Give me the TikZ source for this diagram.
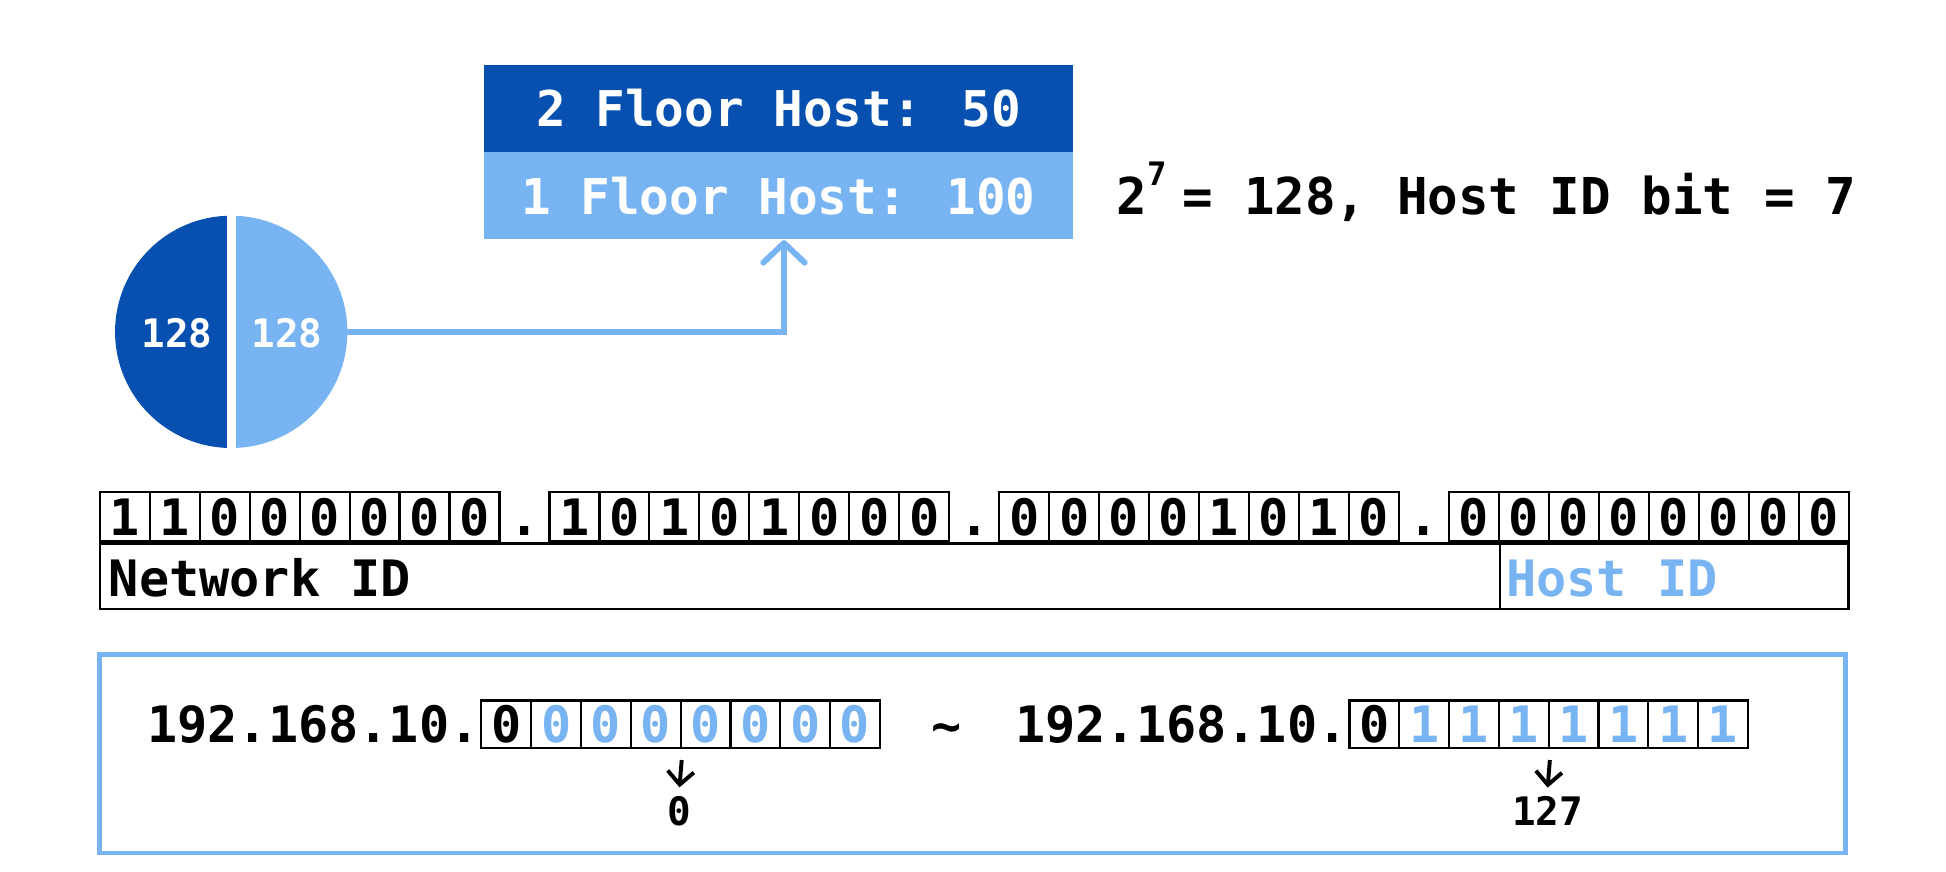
\documentclass[tikz,border=0pt]{standalone}
\usepackage{fontspec}
\setmainfont{DejaVu Sans Mono}
\usepackage{xcolor}
\usepackage{tikz}
\usetikzlibrary{arrows.meta,positioning,calc}
\definecolor{hostdark}{HTML}{0750B0}
\definecolor{hostlight}{HTML}{78B3F2}
\newcommand{\bigtxt}{\fontsize{11.5pt}{13pt}\selectfont\bfseries}
\newcommand{\boxtxt}{\fontsize{11.3pt}{13pt}\selectfont\bfseries}
\newcommand{\eqtxt}{\fontsize{11.65pt}{13pt}\selectfont\bfseries}
\newcommand{\smalltxt}{\fontsize{9pt}{10pt}\selectfont\bfseries}
\newcommand{\powsev}{\makebox[0.1em][l]{\raisebox{6.8pt}{\fontsize{7.4pt}{8pt}\selectfont 7}}}

\begin{document}
\begin{tikzpicture}[
  bitcell/.style={draw,line width=0.5pt,minimum width=4.026mm,minimum height=3.95mm,
    inner sep=0pt,anchor=south west,text height=2.96mm,text depth=0pt,font=\bigtxt},
  gapcell/.style={bitcell,draw=none},
  lowcell/.style={bitcell,minimum width=4.013mm,minimum height=3.85mm},
  floorbox/.style={minimum width=4.744cm,minimum height=7mm,inner sep=0pt,text=white,font=\boxtxt},
  valarrow/.style={line width=0.9pt,-{Straight Barb[length=3pt,width=6pt]}}]
  \useasboundingbox (0,0) rectangle (15.68,7.02);

  % floors
  \node[floorbox,fill=hostdark] (floorTwo) at (6.272,6.146) {2 Floor Host: 50};
  \node[floorbox,fill=hostlight,below=-0.3pt of floorTwo] (floorOne) {1 Floor Host: 100};
  \node[anchor=base west,inner sep=0pt,font=\eqtxt] (formula) at (8.99,5.29)
    {2\powsev{} = 128, Host ID bit = 7};

  % pie
  \fill[hostdark] (1.863,5.282) arc (90:270:0.936) -- cycle;
  \fill[hostlight] (1.863,5.282) arc (90:-90:0.936) -- cycle;
  \draw[white,line width=0.0725cm] (1.863,3.38) -- (1.863,5.31);
  \node[circle,minimum size=1.872cm,inner sep=0pt] (pie) at (1.863,4.346) {};
  \node[text=white,font=\smalltxt] (netA) at (1.425,4.335) {128};
  \node[text=white,font=\smalltxt] (netB) at (2.313,4.335) {128};
  \draw[hostlight,line width=1.35pt,line cap=round,-{Straight Barb[length=4.5pt,width=9.5pt,round]}]
    (pie.east) -| ([xshift=0.045cm]floorOne.south);

  % address bits
  \foreach \oct [count=\k from 0] in {{1,1,0,0,0,0,0,0},{1,0,1,0,1,0,0,0},{0,0,0,0,1,0,1,0},{0,0,0,0,0,0,0,0}}
    \foreach \b [count=\j from 0] in \oct
      \node[bitcell] (b\k-\j) at (0.795+9*\k*0.4026+\j*0.4026,2.65) {\b};
  \foreach \k in {0,1,2}
    \node[gapcell] (dot\k) at (0.795+9*\k*0.4026+8*0.4026,2.65) {.};
  \node[draw,line width=0.5pt,minimum width=14.09cm,minimum height=5.3mm,inner sep=0pt,anchor=north west]
    (idrow) at (0.795,2.65) {};
  \draw[line width=0.5pt] (b3-0.south east) -- (idrow.south -| b3-0.east);
  \node[anchor=base west,inner sep=0pt,font=\bigtxt] (netid) at (0.87,2.21) {Network ID};
  \node[anchor=base west,inner sep=0pt,font=\bigtxt,text=hostlight] (hostid) at (12.13,2.21) {Host ID};

  % host range
  \node[draw=hostlight,line width=1.05pt,minimum width=14.07cm,minimum height=1.6cm,inner sep=0pt]
    (range) at (7.835,0.947) {};
  \foreach \b/\c [count=\j from 0] in {0/black,0/hostlight,0/hostlight,0/hostlight,0/hostlight,0/hostlight,0/hostlight,0/hostlight}
    \node[lowcell,text=\c] (lo\j) at (3.87+\j*0.4013,0.982) {\b};
  \foreach \b/\c [count=\j from 0] in {0/black,1/hostlight,1/hostlight,1/hostlight,1/hostlight,1/hostlight,1/hostlight,1/hostlight}
    \node[lowcell,text=\c] (hi\j) at (10.865+\j*0.4013,0.982) {\b};
  \node[anchor=base east,inner sep=0pt,font=\bigtxt] (ipLow) at (lo0.base west) {192.168.10.};
  \node[anchor=base east,inner sep=0pt,font=\bigtxt] (ipHigh) at (hi0.base west) {192.168.10.};
  \node[anchor=base,inner sep=0pt,font=\bigtxt] (tilde) at (7.63,1.026) {\textasciitilde};
  \node[font=\smalltxt,inner sep=1.8pt] (zero) at (5.475,0.486) {0};
  \node[font=\smalltxt,inner sep=1.8pt] (top) at (12.47,0.486) {127};
  \draw[valarrow] ([yshift=-0.86mm]lo3.south east) -- (zero.north);
  \draw[valarrow] ([yshift=-0.86mm]hi3.south east) -- (top.north);
\end{tikzpicture}
\end{document}
